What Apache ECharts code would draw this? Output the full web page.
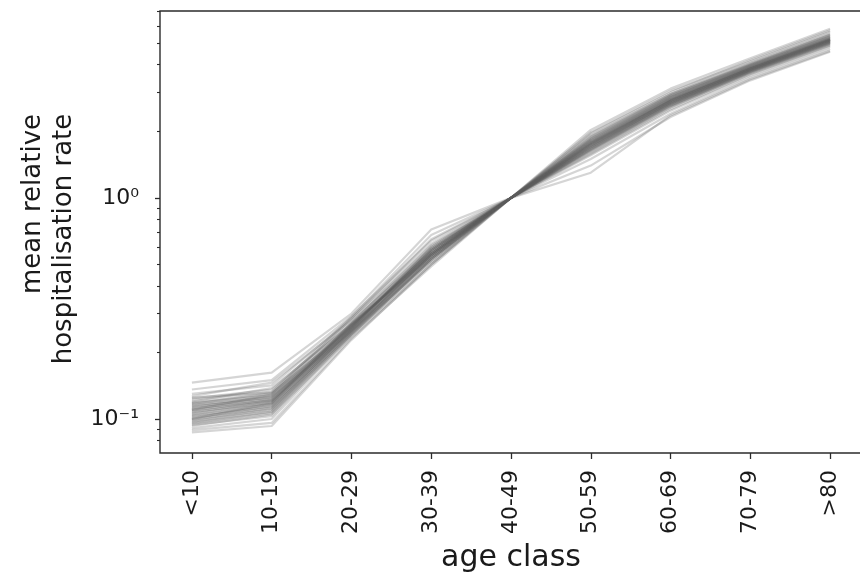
<!DOCTYPE html>
<html><head><meta charset="utf-8">
<script src="https://cdn.jsdelivr.net/npm/echarts@6/dist/echarts.min.js"></script>
<style>html,body{margin:0;padding:0;background:#fff;overflow:hidden}#c{width:860px;height:577px}</style>
</head><body><div id="c"></div>
<script>
// x categories
const categories = ['<10','10-19','20-29','30-39','40-49','50-59','60-69','70-79','>80'];

// one value per run (line), per age class
const ageLt10  = [.146,.136,.130,.127,.124,.122,.120,.119,.118,.117,.116,.115,.114,.113,.112,.111,.110,.109,.108,.107,.106,.105,.104,.103,.102,.101,.100,.099,.098,.097,.096,.095,.094,.093,.091,.089,.087,.125,.110,.100];
const age10_19 = [.162,.150,.142,.146,.136,.133,.138,.130,.128,.131,.125,.127,.123,.126,.121,.124,.120,.122,.118,.121,.117,.119,.114,.116,.112,.115,.110,.113,.108,.111,.106,.108,.103,.105,.100,.096,.093,.132,.129,.118];
const age20_29 = [.300,.292,.285,.280,.276,.271,.268,.262,.266,.259,.270,.256,.264,.250,.268,.258,.262,.254,.266,.248,.260,.252,.264,.246,.256,.250,.258,.244,.254,.240,.250,.242,.246,.236,.240,.232,.228,.290,.284,.272];
const age30_39 = [.72,.64,.62,.60,.58,.59,.56,.57,.55,.58,.54,.60,.56,.53,.57,.55,.59,.54,.56,.52,.58,.55,.57,.53,.56,.54,.58,.52,.55,.51,.56,.53,.55,.50,.53,.49,.50,.68,.65,.61];
const age40_49 = [1,1,1,1,1,1,1,1,1,1,1,1,1,1,1,1,1,1,1,1,1,1,1,1,1,1,1,1,1,1,1,1,1,1,1,1,1,1,1,1];
const age50_59 = [2.03,1.98,1.92,1.70,1.85,1.80,1.76,1.88,1.72,1.66,1.74,1.82,1.68,1.62,1.78,1.70,1.84,1.64,1.75,1.58,1.80,1.72,1.76,1.66,1.78,1.69,1.82,1.60,1.74,1.56,1.77,1.67,1.72,1.50,1.64,1.40,1.30,1.96,1.90,1.86];
const age60_69 = [3.12,3.05,2.95,2.70,2.88,2.80,2.74,2.92,2.68,2.62,2.76,2.84,2.66,2.58,2.78,2.70,2.86,2.60,2.74,2.52,2.82,2.70,2.76,2.64,2.80,2.68,2.86,2.56,2.72,2.48,2.78,2.66,2.74,2.40,2.62,2.32,2.36,3.00,2.94,2.90];
const age70_79 = [4.28,4.15,4.05,3.80,3.98,3.90,3.86,4.02,3.78,3.72,3.84,3.94,3.76,3.68,3.88,3.80,3.96,3.70,3.85,3.62,3.92,3.80,3.86,3.74,3.90,3.78,3.98,3.66,3.82,3.58,3.88,3.76,3.84,3.50,3.72,3.40,3.44,4.20,4.08,4.00];
const age80p   = [5.82,5.65,5.50,5.10,5.38,5.25,5.20,5.42,5.08,5.00,5.16,5.30,5.06,4.95,5.22,5.12,5.34,4.98,5.18,4.88,5.28,5.14,5.20,5.04,5.26,5.10,5.36,4.92,5.16,4.82,5.22,5.06,5.18,4.72,5.02,4.58,4.62,5.72,5.55,5.46];

// y axis (log) ticks
const majorTickValues = [0.1, 1];
const majorTickLabels = ['10\u207B\u00B9', '10\u2070'];
const minorTickValues = [0.08,0.09,0.2,0.3,0.4,0.5,0.6,0.7,0.8,0.9,2,3,4,5,6,7];
const yMinValue = 0.0702, yMaxValue = 7.0;

const columns = [ageLt10, age10_19, age20_29, age30_39, age40_49, age50_59, age60_69, age70_79, age80p];
const FONT = 'DejaVu Sans';
const INK = '#1a1a1a';
const lg = Math.log10;

const series = [];
for (let r = 0; r < ageLt10.length; r++) {
  series.push({
    type: 'line', xAxisIndex: 0, yAxisIndex: 0,
    data: columns.map((col, i) => [i, lg(col[r])]),
    symbol: 'none', showSymbol: false, silent: true,
    lineStyle: { color: '#5e5e5e', width: 2.2, opacity: 0.26 }
  });
}

const majorLog = majorTickValues.map(lg);
const chart = echarts.init(document.getElementById('c'), null, { renderer: 'canvas' });
chart.setOption({
  animation: false,
  backgroundColor: '#ffffff',
  grid: { left: 160, width: 702, top: 11, bottom: 124, outerBoundsMode: 'none', containLabel: false, show: true, borderColor: '#2b2b2b', borderWidth: 1.4, backgroundColor: 'transparent' },
  xAxis: [{
    type: 'value', min: -0.4, max: 8.4,
    axisLine: { show: false, onZero: false },
    splitLine: { show: false },
    axisTick: { show: true, length: 6, lineStyle: { color: '#2b2b2b', width: 1.3 }, customValues: categories.map((c, i) => i) },
    axisLabel: {
      customValues: categories.map((c, i) => i),
      rotate: 90, margin: 17, fontSize: 22, fontFamily: FONT, color: INK,
      formatter: v => categories[Math.round(v)]
    },
    name: 'age class', nameLocation: 'middle', nameGap: 90,
    nameTextStyle: { fontSize: 30, fontFamily: FONT, color: INK }
  }],
  yAxis: [{
    type: 'value', min: lg(yMinValue), max: lg(yMaxValue),
    axisLine: { show: false, onZero: false },
    splitLine: { show: false },
    axisTick: { show: true, length: 5, lineStyle: { color: '#2b2b2b', width: 1.3 }, customValues: majorLog },
    axisLabel: {
      customValues: majorLog, margin: 21, fontSize: 22, fontFamily: FONT, color: INK, padding: [8, 0, 0, 0],
      formatter: v => { const k = majorLog.findIndex(t => Math.abs(t - v) < 1e-6); return k >= 0 ? majorTickLabels[k] : ''; }
    },
    name: '{a|mean relative}\n{b|hospitalisation rate}', nameLocation: 'middle', nameRotate: 90, nameGap: 78,
    nameTextStyle: {
      fontSize: 26, fontFamily: FONT, color: INK, lineHeight: 31,
      rich: {
        a: { fontSize: 26, fontFamily: FONT, color: INK, lineHeight: 31, padding: [0, 0, 0, 56] },
        b: { fontSize: 26, fontFamily: FONT, color: INK, lineHeight: 31, padding: [0, 14, 0, 0] }
      }
    }
  }, {
    type: 'value', min: lg(yMinValue), max: lg(yMaxValue), position: 'left',
    axisLine: { show: false, onZero: false }, splitLine: { show: false },
    axisTick: { show: true, length: 3, lineStyle: { color: '#2b2b2b', width: 1.1 }, customValues: minorTickValues.map(lg) },
    axisLabel: { show: false }
  }],
  series: series
});
</script>
</body></html>
